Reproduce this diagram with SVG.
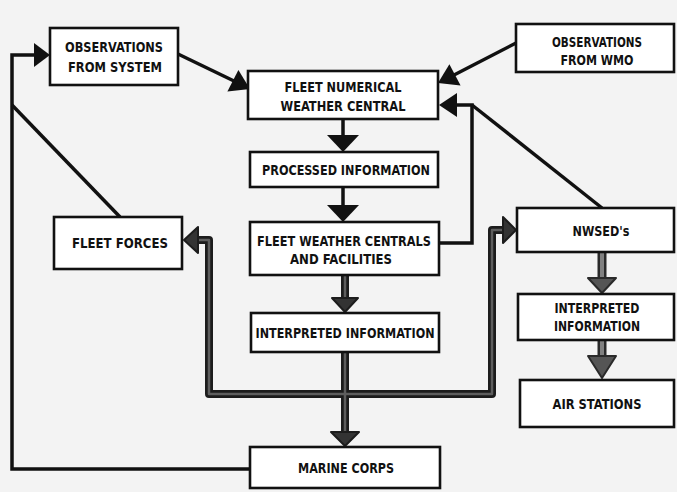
<svg xmlns="http://www.w3.org/2000/svg" width="677" height="492" viewBox="0 0 677 492">
<style>
.box{fill:#fff;stroke:#111;stroke-width:2.6}
.t{font-family:"DejaVu Sans Condensed","DejaVu Sans","Liberation Sans",sans-serif;font-weight:bold;font-size:14.5px;fill:#111;text-anchor:middle}
.thin{fill:none;stroke:#111;stroke-width:3.5;stroke-linejoin:miter}
.head{fill:#111}
.thickO{fill:none;stroke:#1c1c1c;stroke-width:8;stroke-linejoin:round}
.thickI{fill:none;stroke:#5e5e5e;stroke-width:2.5;stroke-linejoin:round}
.theadG{fill:#333;stroke:#1c1c1c;stroke-width:2;stroke-linejoin:round}
.rThickO{fill:none;stroke:#2a2a2a;stroke-width:9}
.rThickI{fill:none;stroke:#808080;stroke-width:4}
.rHead{fill:#555;stroke:#2a2a2a;stroke-width:2;stroke-linejoin:round}
</style>
<rect width="677" height="492" fill="#f3f3f3"/>
<g id="connectors">
  <!-- Obs system -> FNWC -->
  <path class="thin" d="M178,54 L234,81"/>
  <polygon class="head" points="250,89 227.4,91.5 238.4,70.1"/>
  <!-- Obs WMO -> FNWC -->
  <path class="thin" d="M516,43 L454,75"/>
  <polygon class="head" points="438,83 460.6,85.6 449.4,64.2"/>
  <!-- FNWC -> Processed -->
  <path class="thin" d="M343,119 L343,137"/>
  <polygon class="head" points="327,135 359,135 343,152"/>
  <!-- Processed -> FWC -->
  <path class="thin" d="M343,187 L343,207"/>
  <polygon class="head" points="327,205 359,205 343,222"/>
  <!-- FWC feedback and NWSED -> FNWC -->
  <path class="thin" d="M439,243 L472,243 L472,105 L454,105"/>
  <path class="thin" d="M602,208 L472,105"/>
  <polygon class="head" points="439,105 457,93 457,117"/>
  <!-- Marine corps -> Obs system loop -->
  <path class="thin" d="M250,469 L12,469 L12,55 L37,55"/>
  <path class="thin" d="M120,217 L12,105"/>
  <polygon class="head" points="50,55 34,43 34,67"/>
  <!-- thick distribution loop -->
  <path class="thickO" d="M197,240 L209,240 L209,394 L492,394 L492,230 L505,230"/>
  <path class="thickO" d="M345,275 L345,300 M345,352 L345,434"/>
  <path class="thickI" d="M197,240 L209,240 L209,394 L492,394 L492,230 L505,230"/>
  <path class="thickI" d="M345,275 L345,300 M345,352 L345,434"/>
  <polygon class="theadG" points="184,240 198,227 198,253"/>
  <polygon class="theadG" points="516,230 503,217 503,243"/>
  <polygon class="theadG" points="332,298 358,298 345,312"/>
  <polygon class="theadG" points="331,432 359,432 345,446"/>
  <!-- right column thick -->
  <path class="rThickO" d="M602,252 L602,279 M602,340 L602,357"/>
  <path class="rThickI" d="M602,252 L602,279 M602,340 L602,357"/>
  <polygon class="rHead" points="588,278 616,278 602,293"/>
  <polygon class="rHead" points="588,356 616,356 602,378"/>
</g>
<g id="obs-system">
  <rect class="box" x="50" y="28" width="128" height="57"/>
  <text class="t" x="114" y="52" textLength="98" lengthAdjust="spacingAndGlyphs">OBSERVATIONS</text>
  <text class="t" x="115" y="72" textLength="94" lengthAdjust="spacingAndGlyphs">FROM SYSTEM</text>
</g>
<g id="fnwc">
  <rect class="box" x="248" y="71" width="190" height="48"/>
  <text class="t" x="343" y="92" textLength="117" lengthAdjust="spacingAndGlyphs">FLEET NUMERICAL</text>
  <text class="t" x="343" y="111" textLength="125" lengthAdjust="spacingAndGlyphs">WEATHER CENTRAL</text>
</g>
<g id="obs-wmo">
  <rect class="box" x="516" y="24" width="158" height="48"/>
  <text class="t" x="597" y="47" textLength="90" lengthAdjust="spacingAndGlyphs">OBSERVATIONS</text>
  <text class="t" x="597" y="65" textLength="73" lengthAdjust="spacingAndGlyphs">FROM  WMO</text>
</g>
<g id="processed">
  <rect class="box" x="250" y="152" width="188" height="35"/>
  <text class="t" x="346" y="175" textLength="168" lengthAdjust="spacingAndGlyphs">PROCESSED INFORMATION</text>
</g>
<g id="fwc">
  <rect class="box" x="250" y="222" width="189" height="53"/>
  <text class="t" x="344" y="246" textLength="174" lengthAdjust="spacingAndGlyphs">FLEET WEATHER CENTRALS</text>
  <text class="t" x="341" y="264" textLength="102" lengthAdjust="spacingAndGlyphs">AND FACILITIES</text>
</g>
<g id="interp-center">
  <rect class="box" x="251" y="313" width="188" height="39"/>
  <text class="t" x="345" y="338" textLength="179" lengthAdjust="spacingAndGlyphs">INTERPRETED INFORMATION</text>
</g>
<g id="fleet-forces">
  <rect class="box" x="54" y="217" width="128" height="52"/>
  <text class="t" x="120" y="248" textLength="96" lengthAdjust="spacingAndGlyphs">FLEET FORCES</text>
</g>
<g id="nwsed">
  <rect class="box" x="517" y="208" width="157" height="44"/>
  <text class="t" x="601" y="236" textLength="57" lengthAdjust="spacingAndGlyphs">NWSED's</text>
</g>
<g id="interp-right">
  <rect class="box" x="518" y="294" width="156" height="46"/>
  <text class="t" x="597" y="313" textLength="85" lengthAdjust="spacingAndGlyphs">INTERPRETED</text>
  <text class="t" x="597" y="331" textLength="86" lengthAdjust="spacingAndGlyphs">INFORMATION</text>
</g>
<g id="air-stations">
  <rect class="box" x="520" y="380" width="154" height="47"/>
  <text class="t" x="597" y="409" textLength="89" lengthAdjust="spacingAndGlyphs">AIR STATIONS</text>
</g>
<g id="marine-corps">
  <rect class="box" x="250" y="447" width="190" height="41"/>
  <text class="t" x="346" y="473" textLength="96" lengthAdjust="spacingAndGlyphs">MARINE CORPS</text>
</g>
</svg>
